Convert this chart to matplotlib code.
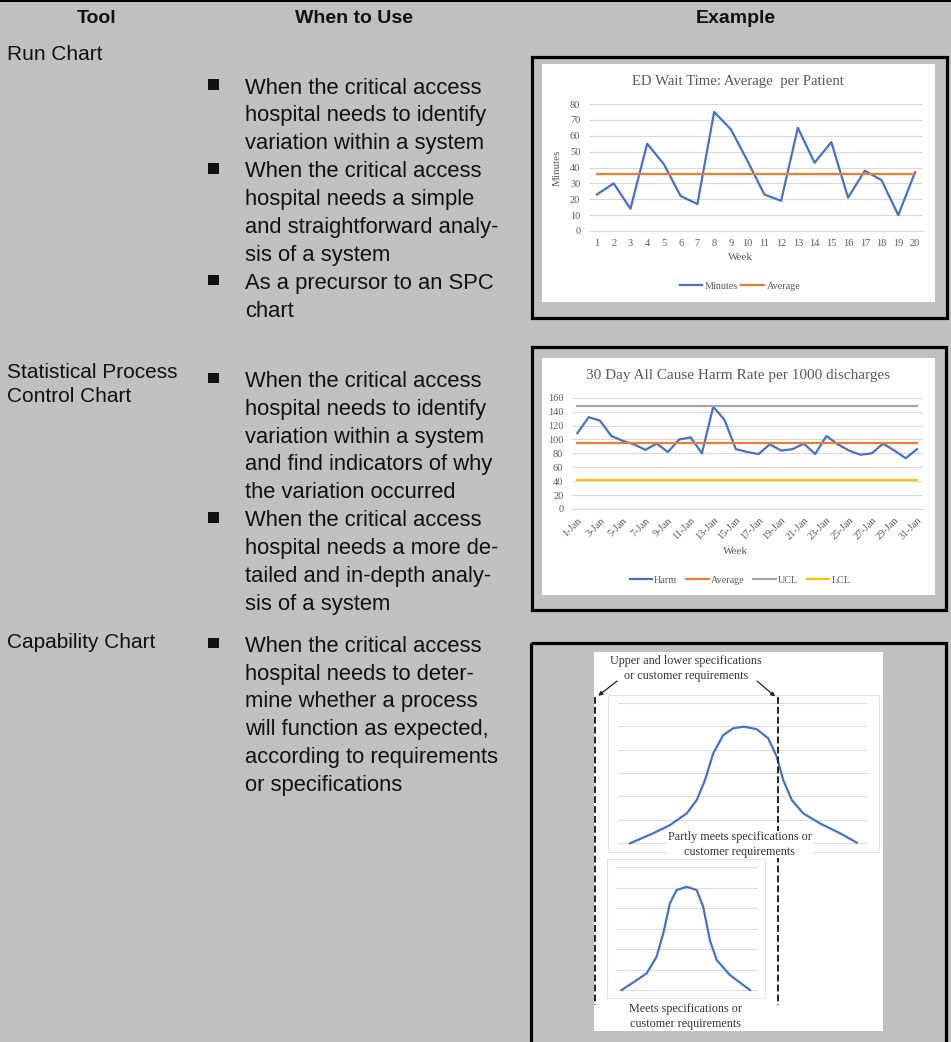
import matplotlib.pyplot as plt
from matplotlib.patches import Rectangle
import numpy as np

W, H = 951, 1042
BG = '#c0c0c0'
INK = '#111111'
CHART_TXT = '#595959'
GRID = '#d9d9d9'
BLUE, ORANGE, GRAY, GOLD = '#4472c4', '#ed7d31', '#a5a5a5', '#ffc000'
SERIF = ['Liberation Serif', 'DejaVu Serif']
SANS = ['Liberation Sans', 'DejaVu Sans']

######  data
weeks = list(range(1, 21))
minutes = [23, 30, 14, 55, 42, 22, 17, 75, 64, 44, 23, 19, 65, 43, 56, 21, 38, 32, 10, 37]
avg_minutes = 36

days = ['%d-Jan' % d for d in range(1, 32)]
harm = [109, 132, 127, 105, 98, 93, 85, 94, 82, 100, 103, 80, 147, 128, 86, 82,
        79, 93, 84, 86, 94, 79, 105, 93, 84, 78, 80, 94, 84, 73, 86]
harm_avg = 95
ucl = 148
lcl = 42

partly_x = [0.48, 1.41, 2.08, 2.75, 3.15, 3.48, 3.81, 4.21, 4.61, 5.04, 5.55, 6.01, 6.35, 6.61, 6.95, 7.41, 8.08, 8.88, 9.55]
partly_y = [0.0, 0.43, 0.78, 1.28, 1.85, 2.70, 3.84, 4.62, 4.91, 4.98, 4.87, 4.48, 3.70, 2.70, 1.85, 1.28, 0.85, 0.43, 0.03]
meets_x = [0.47, 1.40, 2.24, 2.94, 3.41, 3.88, 4.35, 5.06, 5.77, 6.23, 6.70, 7.18, 8.12, 9.53]
meets_y = [0.0, 0.42, 0.82, 1.63, 2.77, 4.24, 4.89, 5.05, 4.89, 4.07, 2.44, 1.47, 0.73, 0.0]

headers = ['Tool', 'When to Use', 'Example']
tools = [['Run Chart'], ['Statistical Process', 'Control Chart'], ['Capability Chart']]
uses = [
    [['When the critical access', 'hospital needs to identify', 'variation within a system'],
     ['When the critical access', 'hospital needs a simple', 'and straightforward analy-', 'sis of a system'],
     ['As a precursor to an SPC', 'chart']],
    [['When the critical access', 'hospital needs to identify', 'variation within a system',
      'and find indicators of why', 'the variation occurred'],
     ['When the critical access', 'hospital needs a more de-', 'tailed and in-depth analy-', 'sis of a system']],
    [['When the critical access', 'hospital needs to deter-', 'mine whether a process',
      'will function as expected,', 'according to requirements', 'or specifications']],
]

######  layout helpers
def frac(l, t, r, b):
    return [l / W, 1 - b / H, (r - l) / W, (b - t) / H]

fig = plt.figure(figsize=(W / 100, H / 100), dpi=100)
fig.patch.set_facecolor(BG)

back = fig.add_axes([0, 0, 1, 1], zorder=0)
back.set_xlim(0, W)
back.set_ylim(H, 0)
back.axis('off')

front = fig.add_axes([0, 0, 1, 1], zorder=10)
front.set_xlim(0, W)
front.set_ylim(H, 0)
front.axis('off')
front.patch.set_alpha(0)

# top rule
back.add_patch(Rectangle((0, 0), W, 2.2, color='black', lw=0))

# header
for txt, xc in zip(headers, [97, 354, 736]):
    back.text(xc, 23.3, txt, ha='center', va='baseline', fontsize=14, fontweight='bold',
              family=SANS, color=INK)

# table rows
row_tool_base = [60, 378.3, 648.3]
row_use_base = [93.5, 386.7, 651.7]
step = 27.9
for r in range(3):
    for i, t in enumerate(tools[r]):
        back.text(6.7, row_tool_base[r] + i * 23.4, t, ha='left', va='baseline',
                  fontsize=15, family=SANS, color=INK)
    y = row_use_base[r]
    for bullet in uses[r]:
        back.add_patch(Rectangle((208.4, y - 14.2), 10.7, 10.7, color=INK, lw=0))
        for line in bullet:
            back.text(245, y, line, ha='left', va='baseline', fontsize=15.8,
                      family=SANS, color=INK)
            y += step

# example frames
for (l, t, r, b) in [(531.5, 56.5, 946.5, 317.5), (531.5, 346.5, 945.5, 610), (531.2, 643.2, 946.2, 1050)]:
    back.add_patch(Rectangle((l, t), r - l, b - t, fill=False, ec='black', lw=2.3))
back.add_patch(Rectangle((541.7, 64), 393.3, 238, color='white', lw=0))
back.add_patch(Rectangle((541.7, 358), 393.3, 237, color='white', lw=0))
back.add_patch(Rectangle((594, 652), 289, 379, color='white', lw=0))


def style_chart(ax):
    for s in ['left', 'right', 'top']:
        ax.spines[s].set_visible(False)
    ax.spines['bottom'].set_color(GRID)
    ax.spines['bottom'].set_linewidth(0.8)
    ax.set_facecolor('none')
    ax.grid(axis='y', color=GRID, lw=0.8)
    ax.set_axisbelow(True)
    ax.tick_params(length=0, labelsize=7.5, labelcolor=CHART_TXT)
    for lab in ax.get_xticklabels() + ax.get_yticklabels():
        lab.set_family(SERIF)


######  run chart
ax1 = fig.add_axes(frac(588.6, 104, 923.4, 231), zorder=2)
ax1.plot(weeks, minutes, color=BLUE, lw=1.6, label='Minutes')
ax1.plot(weeks, [avg_minutes] * len(weeks), color=ORANGE, lw=1.6, label='Average')
ax1.set_xlim(0.5, 20.5)
ax1.set_ylim(0, 80)
ax1.set_xticks(weeks)
ax1.set_yticks(range(0, 81, 10))
style_chart(ax1)
ax1.tick_params(axis='x', pad=5.5)
ax1.tick_params(axis='y', pad=6)
ax1.set_ylabel('Minutes', fontsize=8, color=CHART_TXT, family=SERIF)
ax1.yaxis.set_label_coords(-(588.6 - 562) / 334.8, 0.5)
back.text(738, 82, 'ED Wait Time: Average  per Patient', ha='center', va='center',
          fontsize=10.6, family=SERIF, color=CHART_TXT)
back.text(740, 257, 'Week', ha='center', va='center', fontsize=8, family=SERIF, color=CHART_TXT)
ax1.legend(loc='center', bbox_to_anchor=((740 - 588.6) / 334.8, -(286 - 231) / 127), ncol=2,
           frameon=False, prop={'family': SERIF, 'size': 7.3}, labelcolor=CHART_TXT,
           handlelength=2.2, handletextpad=0.3, columnspacing=0.3)

######  SPC chart
x2 = np.arange(1, len(harm) + 1)
ax2 = fig.add_axes(frac(571.7, 397.7, 922.7, 509), zorder=2)
ax2.plot(x2, harm, color=BLUE, lw=1.6, label='Harm')
ax2.plot(x2, [harm_avg] * len(x2), color=ORANGE, lw=1.6, label='Average')
ax2.plot(x2, [ucl] * len(x2), color=GRAY, lw=1.6, label='UCL')
ax2.plot(x2, [lcl] * len(x2), color=GOLD, lw=1.6, label='LCL')
ax2.set_xlim(0.5, len(harm) + 0.5)
ax2.set_ylim(0, 160)
ax2.set_yticks(range(0, 161, 20))
ax2.set_xticks(x2[::2])
ax2.set_xticklabels(days[::2], rotation=45, ha='right', rotation_mode='anchor')
style_chart(ax2)
ax2.tick_params(axis='x', pad=5)
ax2.tick_params(axis='y', pad=6)
back.text(738, 376, '30 Day All Cause Harm Rate per 1000 discharges', ha='center', va='center',
          fontsize=11, family=SERIF, color=CHART_TXT)
back.text(735, 551, 'Week', ha='center', va='center', fontsize=8, family=SERIF, color=CHART_TXT)
ax2.legend(loc='center', bbox_to_anchor=((740 - 571.7) / 351, -(580 - 509) / 111.3), ncol=4,
           frameon=False, prop={'family': SERIF, 'size': 7.3}, labelcolor=CHART_TXT,
           handlelength=2.2, handletextpad=0.2, columnspacing=0.9)

######  capability sketch
def spec_panel(rect, xlim, ylim, cx, cy):
    ax = fig.add_axes(rect, zorder=2)
    ax.set_facecolor('none')
    ax.hlines(range(0, 7), 0, 10, color='#dcdcdc', lw=0.8)
    ax.plot(cx, cy, color=BLUE, lw=1.6)
    ax.set_xlim(*xlim)
    ax.set_ylim(*ylim)
    ax.set_xticks([])
    ax.set_yticks([])
    for s in ax.spines.values():
        s.set_color('#e4e4e4')
        s.set_linewidth(0.8)
    return ax

spec_panel(frac(608, 695, 879, 852), (-0.4, 10.44), (-0.37, 6.33), partly_x, partly_y)
spec_panel(frac(607, 859, 765, 998), (-0.56, 10.59), (-0.39, 6.41), meets_x, meets_y)

for xs in [595, 778.3]:
    front.plot([xs, xs], [697, 1005], color='#222222', lw=1.4, ls=(0, (3.5, 1.6)))
front.annotate('', xy=(596, 697.5), xytext=(619.3, 679.3),
               arrowprops=dict(arrowstyle='-|>', color='#222222', lw=0.9, mutation_scale=6))
front.annotate('', xy=(777.3, 698.3), xytext=(755, 679.3),
               arrowprops=dict(arrowstyle='-|>', color='#222222', lw=0.9, mutation_scale=6))

cap_txt = dict(ha='center', va='center', fontsize=8.7, family=SERIF, color='#333333')
front.text(685.7, 661, 'Upper and lower specifications', **cap_txt)
front.text(685.7, 676, 'or customer requirements', **cap_txt)
front.text(740, 844.5, 'Partly meets specifications or\ncustomer requirements', linespacing=1.25,
           bbox=dict(facecolor='white', edgecolor='none', pad=0.6), **cap_txt)
front.text(685.7, 1009.3, 'Meets specifications or', **cap_txt)
front.text(685.7, 1024, 'customer requirements', **cap_txt)

plt.savefig('out.png', dpi=100, facecolor=BG)
